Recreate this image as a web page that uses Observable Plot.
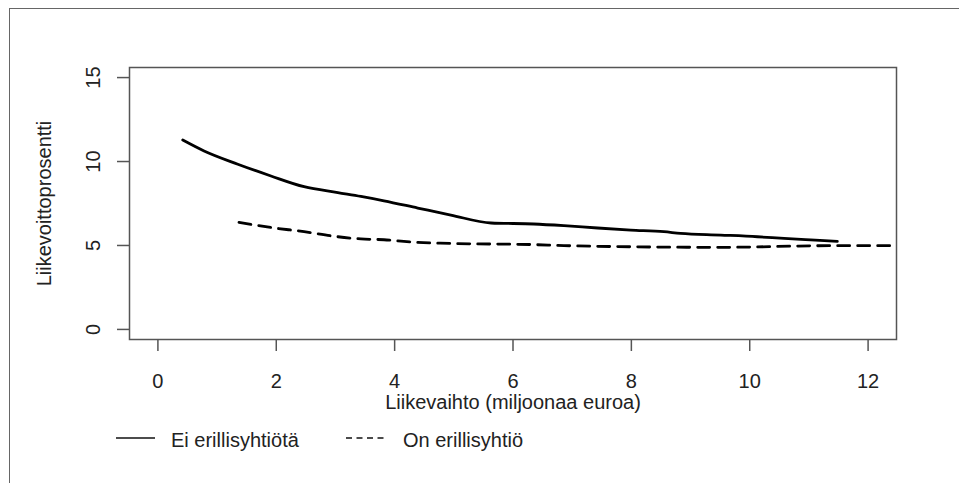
<!DOCTYPE html>
<html>
<head>
<meta charset="utf-8">
<script src="https://cdn.jsdelivr.net/npm/d3@7"></script>
<script src="https://cdn.jsdelivr.net/npm/@observablehq/plot@0.6"></script>
<style>
  html, body { margin: 0; padding: 0; background: #fff; }
  #wrap { position: relative; width: 959px; height: 483px; overflow: hidden; font-family: "Liberation Sans", Arial, sans-serif; color: #222; }
  #chart { position: absolute; left: 0; top: 0; }
  #frame { position: absolute; left: 9px; top: 8px; width: 1000px; height: 1000px; border-left: 1.5px solid #666; border-top: 1.5px solid #666; }
  .lg { position: absolute; font-size: 20px; line-height: 20px; white-space: nowrap; }
  .sw { position: absolute; }
</style>
</head>
<body>
<div id="wrap">
  <div id="chart"></div>
  <div id="legend"></div>
  <div id="frame"></div>
</div>
<script>
// Series: "Ei erillisyhtiötä" (solid)
const solidX = [0.42, 0.78, 1.35, 1.91, 2.47, 3.04, 3.43, 3.82, 4.39, 4.95, 5.63, 6.35, 6.86, 7.43, 7.99, 8.55, 8.83, 9.51, 10.13, 10.58, 11.03, 11.48];
const solidY = [11.28, 10.63, 9.84, 9.14, 8.50, 8.15, 7.92, 7.66, 7.23, 6.81, 6.34, 6.28, 6.18, 6.04, 5.92, 5.82, 5.72, 5.62, 5.52, 5.42, 5.33, 5.24];
// Series: "On erillisyhtiö" (dashed)
const dashX = [1.37, 1.91, 2.47, 3.04, 3.43, 3.82, 4.39, 4.95, 6.36, 6.86, 9.51, 11.42, 12.6];
const dashY = [6.37, 6.07, 5.82, 5.52, 5.39, 5.34, 5.18, 5.12, 5.05, 4.99, 4.89, 4.99, 4.99];
// Ticks and labels
const xTicks = [0, 2, 4, 6, 8, 10, 12];
const yTicks = [0, 5, 10, 15];
const xTitle = "Liikevaihto (miljoonaa euroa)";
const yTitle = "Liikevoittoprosentti";
const seriesNames = ["Ei erillisyhtiötä", "On erillisyhtiö"];

const solid = solidX.map((x, i) => ({x, y: solidY[i]}));
const dashed = dashX.map((x, i) => ({x, y: dashY[i]}));

const font = "'Liberation Sans', Arial, sans-serif";
const chart = Plot.plot({
  width: 959,
  height: 420,
  marginLeft: 129,
  marginRight: 63,
  marginTop: 67,
  marginBottom: 81,
  style: {fontFamily: font, background: "transparent", color: "#222"},
  x: {domain: [-0.48, 12.48]},
  y: {domain: [-0.6, 15.6]},
  marks: [
    Plot.frame({stroke: "#555", strokeWidth: 1.5}),
    Plot.axisX({ticks: xTicks, tickSize: 12, tickPadding: 22, fontSize: 20, label: null, stroke: "#555", strokeWidth: 1.5, fill: "#222"}),
    Plot.axisY({ticks: yTicks, tickSize: 12, tickFormat: () => "", label: null, stroke: "#555", strokeWidth: 1.5}),
    Plot.text(yTicks, {y: d => d, text: d => String(d), frameAnchor: "left", dx: -36, rotate: -90, textAnchor: "middle", lineAnchor: "middle", fontSize: 20, fill: "#222"}),
    Plot.text([yTitle], {text: d => d, frameAnchor: "left", dx: -85, rotate: -90, textAnchor: "middle", lineAnchor: "middle", fontSize: 20, fill: "#222"}),
    Plot.text([xTitle], {text: d => d, frameAnchor: "bottom", dy: 63, textAnchor: "middle", lineAnchor: "middle", fontSize: 20, fill: "#222"}),
    Plot.line(solid, {x: "x", y: "y", stroke: "#000", strokeWidth: 2.8, curve: "monotone-x", clip: true}),
    Plot.line(dashed, {x: "x", y: "y", stroke: "#000", strokeWidth: 2.8, strokeDasharray: "12,8", curve: "monotone-x", clip: true})
  ]
});
document.getElementById("chart").appendChild(chart);

// Legend below the plot
const legend = document.getElementById("legend");
const items = [
  {name: seriesNames[0], dash: null, swLeft: 116, txtLeft: 171},
  {name: seriesNames[1], dash: "6,4.5", swLeft: 346, txtLeft: 403}
];
items.forEach(it => {
  const svgNS = "http://www.w3.org/2000/svg";
  const sw = document.createElementNS(svgNS, "svg");
  sw.setAttribute("width", 40); sw.setAttribute("height", 6);
  sw.setAttribute("class", "sw");
  sw.style.left = it.swLeft + "px"; sw.style.top = "435px";
  const ln = document.createElementNS(svgNS, "line");
  ln.setAttribute("x1", 0); ln.setAttribute("x2", 39); ln.setAttribute("y1", 3); ln.setAttribute("y2", 3);
  ln.setAttribute("stroke", "#111"); ln.setAttribute("stroke-width", 1.4);
  if (it.dash) ln.setAttribute("stroke-dasharray", it.dash);
  sw.appendChild(ln);
  legend.appendChild(sw);
  const t = document.createElement("div");
  t.className = "lg";
  t.textContent = it.name;
  t.style.left = it.txtLeft + "px"; t.style.top = "430px";
  legend.appendChild(t);
});
</script>
</body>
</html>
